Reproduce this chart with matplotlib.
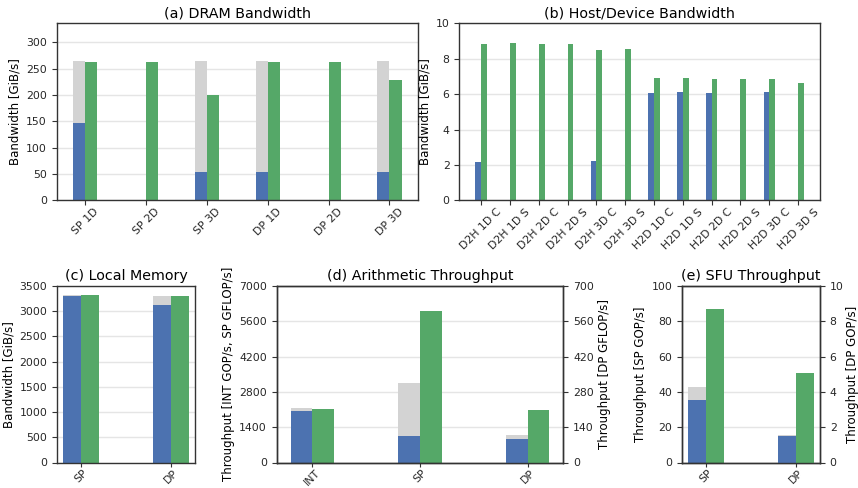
import numpy as np
import matplotlib
matplotlib.use("Agg")
import matplotlib.pyplot as plt

BLUE = "#4c72b0"
GREEN = "#55a868"
GRAY = "#d3d3d3"

# (a) DRAM Bandwidth
a_cats = ["SP 1D", "SP 2D", "SP 3D", "DP 1D", "DP 2D", "DP 3D"]
a_peak = [264, 0, 264, 264, 0, 264]
a_blue = [146, 0, 54.5, 54.5, 0, 54.5]
a_green = [262, 262, 199.5, 262, 262, 228.5]

# (b) Host/Device Bandwidth
b_cats = ["D2H 1D C", "D2H 1D S", "D2H 2D C", "D2H 2D S", "D2H 3D C", "D2H 3D S",
          "H2D 1D C", "H2D 1D S", "H2D 2D C", "H2D 2D S", "H2D 3D C", "H2D 3D S"]
b_blue = [2.15, 0, 0, 0, 2.2, 0, 6.06, 6.12, 6.06, 0, 6.12, 0]
b_green = [8.83, 8.88, 8.83, 8.83, 8.49, 8.55, 6.91, 6.91, 6.85, 6.85, 6.85, 6.63]

# (c) Local Memory
c_cats = ["SP", "DP"]
c_peak = [3325, 3310]
c_blue = [3300, 3125]
c_green = [3325, 3300]

# (d) Arithmetic Throughput (INT, SP on left axis; DP on right axis)
d_cats = ["INT", "SP", "DP"]
d_left_peak = [2170, 3155]
d_left_blue = [2030, 1040]
d_left_green = [2130, 6010]
d_dp_peak = [108]
d_dp_blue = [95]
d_dp_green = [210]

# (e) SFU Throughput (SP on left axis; DP on right axis)
e_cats = ["SP", "DP"]
e_sp_peak = [43]
e_sp_blue = [35.5]
e_sp_green = [87.2]
e_dp_peak = [1.58]
e_dp_blue = [1.48]
e_dp_green = [5.09]

W = 0.2
TICK_FS = 7.8
LABEL_FS = 8.5
TITLE_FS = 10.3

plt.rcParams["font.family"] = "DejaVu Sans"
plt.rcParams["font.size"] = LABEL_FS
plt.rcParams["axes.edgecolor"] = "#333333"
plt.rcParams["axes.linewidth"] = 1.0
plt.rcParams["xtick.color"] = "#333333"
plt.rcParams["ytick.color"] = "#333333"
plt.rcParams["xtick.labelcolor"] = "#262626"
plt.rcParams["ytick.labelcolor"] = "#262626"
plt.rcParams["xtick.major.size"] = 3.5
plt.rcParams["ytick.major.size"] = 3.5
plt.rcParams["xtick.major.pad"] = 1.0
plt.rcParams["axes.labelpad"] = 3.0

fig = plt.figure(figsize=(8.58, 4.88), dpi=100)
FW, FH = 858.0, 488.0
BOT_T, BOT_B = 286.0, 462.5


def box(l, r, t, b):
    return [l / FW, (FH - b) / FH, (r - l) / FW, (b - t) / FH]


def style(ax, grid=True, bottom_row=False):
    if grid:
        ax.yaxis.grid(True, color="#e5e5e5", lw=1.0)
    ax.set_axisbelow(True)
    ax.tick_params(labelsize=TICK_FS)
    if bottom_row:
        ax.tick_params(axis="x", length=3.0, pad=0.5)


def draw(ax, x, peak, blue, green):
    x = np.asarray(x, dtype=float)
    if peak is not None:
        ax.bar(x - W, peak, W, align="edge", color=GRAY, lw=0)
    if blue is not None:
        ax.bar(x - W, blue, W, align="edge", color=BLUE, lw=0)
    ax.bar(x, green, W, align="edge", color=GREEN, lw=0)


# (a)
ax = fig.add_axes(box(56.7, 418, 23.3, 200.4))
style(ax)
xa = np.arange(len(a_cats))
draw(ax, xa, a_peak, a_blue, a_green)
ax.set_xlim(-0.47, len(a_cats) - 1 + 0.47)
ax.set_ylim(0, 336)
ax.set_yticks([0, 50, 100, 150, 200, 250, 300])
ax.set_xticks(xa)
ax.set_xticklabels(a_cats, rotation=45)
ax.set_ylabel("Bandwidth [GiB/s]")
ax.set_title("(a) DRAM Bandwidth", fontsize=TITLE_FS, pad=4)

# (b)
ax = fig.add_axes(box(459.3, 820, 23.3, 200.4))
style(ax)
xb = np.arange(len(b_cats))
draw(ax, xb, None, b_blue, b_green)
ax.set_xlim(-0.76, len(b_cats) - 1 + 0.76)
ax.set_ylim(0, 10)
ax.set_yticks([0, 2, 4, 6, 8, 10])
ax.set_xticks(xb)
ax.set_xticklabels(b_cats, rotation=45)
ax.set_ylabel("Bandwidth [GiB/s]")
ax.set_title("(b) Host/Device Bandwidth", fontsize=TITLE_FS, pad=4)

# (c)
ax = fig.add_axes(box(57, 195, BOT_T, BOT_B))
style(ax, bottom_row=True)
xc = np.arange(len(c_cats))
draw(ax, xc, c_peak, c_blue, c_green)
ax.set_xlim(-0.267, 1.267)
ax.set_ylim(0, 3500)
ax.set_yticks(np.arange(0, 3501, 500))
ax.set_xticks(xc)
ax.set_xticklabels(c_cats, rotation=45)
ax.set_ylabel("Bandwidth [GiB/s]")
ax.set_title("(c) Local Memory", fontsize=TITLE_FS, pad=4)

# (d)
ax = fig.add_axes(box(276.7, 563.3, BOT_T, BOT_B))
style(ax, bottom_row=True)
xd = np.arange(len(d_cats))
draw(ax, xd[:2], d_left_peak, d_left_blue, d_left_green)
ax.set_ylim(0, 7000)
ax.set_yticks(np.arange(0, 7001, 1400))
ax.set_xticks(xd)
ax.set_xticklabels(d_cats, rotation=45)
ax.set_ylabel("Throughput [INT GOP/s, SP GFLOP/s]")
ax.set_title("(d) Arithmetic Throughput", fontsize=TITLE_FS, pad=4)
ax2 = ax.twinx()
draw(ax2, xd[2:], d_dp_peak, d_dp_blue, d_dp_green)
ax2.set_ylim(0, 700)
ax2.set_yticks(np.arange(0, 701, 140))
ax2.tick_params(labelsize=TICK_FS)
ax2.set_ylabel("Throughput [DP GFLOP/s]")
ax.set_xlim(-0.33, 2.33)
ax2.set_xlim(-0.33, 2.33)

# (e)
ax = fig.add_axes(box(682, 820, BOT_T, BOT_B))
style(ax, bottom_row=True)
xe = np.arange(len(e_cats))
draw(ax, xe[:1], e_sp_peak, e_sp_blue, e_sp_green)
ax.set_ylim(0, 100)
ax.set_yticks(np.arange(0, 101, 20))
ax.set_xticks(xe)
ax.set_xticklabels(e_cats, rotation=45)
ax.set_ylabel("Throughput [SP GOP/s]")
ax.set_title("(e) SFU Throughput", fontsize=TITLE_FS, pad=4)
ax2 = ax.twinx()
draw(ax2, xe[1:], e_dp_peak, e_dp_blue, e_dp_green)
ax2.set_ylim(0, 10)
ax2.set_yticks(np.arange(0, 11, 2))
ax2.tick_params(labelsize=TICK_FS)
ax2.set_ylabel("Throughput [DP GOP/s]", labelpad=1.5)
ax.set_xlim(-0.265, 1.265)
ax2.set_xlim(-0.265, 1.265)

fig.savefig("out.png", dpi=100)
